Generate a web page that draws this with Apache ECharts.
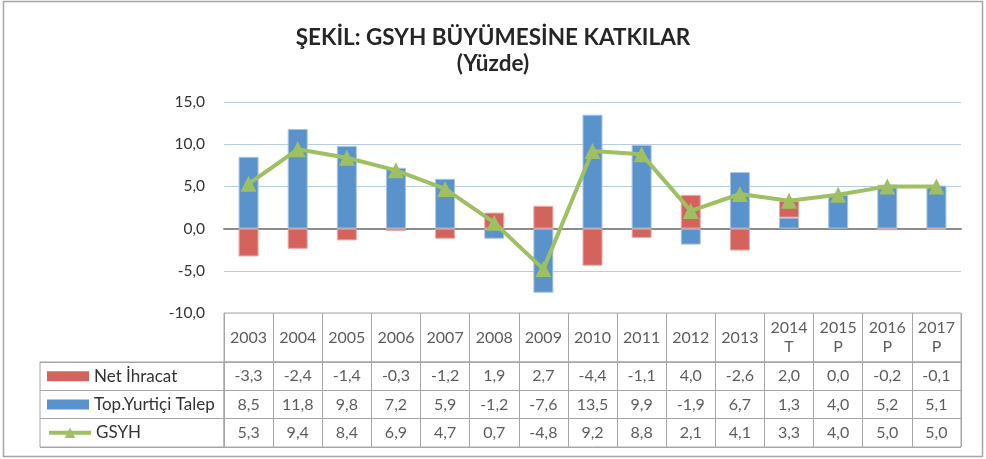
<!DOCTYPE html>
<html>
<head>
<meta charset="utf-8">
<script src="https://cdn.jsdelivr.net/npm/echarts@6/dist/echarts.min.js"></script>
<style>html,body{margin:0;padding:0;background:#fff}#c{width:986px;height:459px}</style>
</head>
<body>
<div id="c"></div>
<script>
const years = ['2003','2004','2005','2006','2007','2008','2009','2010','2011','2012','2013','2014T','2015P','2016P','2017P'];
const headerLabels = ['2003','2004','2005','2006','2007','2008','2009','2010','2011','2012','2013','2014\nT','2015\nP','2016\nP','2017\nP'];
const rowNames = ['Net İhracat','Top.Yurtiçi Talep','GSYH'];
const netExport = [-3.3,-2.4,-1.4,-0.3,-1.2,1.9,2.7,-4.4,-1.1,4.0,-2.6,2.0,0.0,-0.2,-0.1];
const domesticDemand = [8.5,11.8,9.8,7.2,5.9,-1.2,-7.6,13.5,9.9,-1.9,6.7,1.3,4.0,5.2,5.1];
const gdp = [5.3,9.4,8.4,6.9,4.7,0.7,-4.8,9.2,8.8,2.1,4.1,3.3,4.0,5.0,5.0];
const yTicks = {min:-10, max:15, interval:5};

const fmt = v => Number(v).toFixed(1).replace('.', ',');
const FONT = 'Lato';
const TXT = '#333333';
const BORDER = '#a6a6a6';
const rowsData = [netExport, domesticDemand, gdp];

const chart = echarts.init(document.getElementById('c'));

const tableSeries = rowsData.map((arr, r) => ({
  type: 'scatter', name: 'tbl' + r, xAxisIndex: 2, yAxisIndex: 2,
  symbolSize: 1, itemStyle: {color: 'rgba(0,0,0,0)'}, silent: true,
  label: {show: true, position: 'inside', formatter: p => fmt(p.value[2]),
    fontFamily: FONT, fontSize: 16, color: TXT},
  data: arr.map((v, i) => [i, r, v])
}));

const legendTops = [367.7, 396, 424.3];
const legends = rowNames.map((n, i) => ({
  left: 47, top: legendTops[i], padding: 0, data: [{name: n, icon: i === 2 ? undefined : 'rect'}],
  selectedMode: false,
  itemWidth: 42, itemHeight: i === 2 ? 13 : 10,
  itemStyle: {borderWidth: 0},
  lineStyle: {width: 4},
  textStyle: {fontFamily: FONT, fontSize: 17, color: TXT, lineHeight: 17}
}));

chart.setOption({
  animation: false,
  textStyle: {fontFamily: FONT},
  title: {
    text: 'ŞEKİL: GSYH BÜYÜMESİNE KATKILAR\n(Yüzde)',
    left: 'center', top: 24.5, padding: 0,
    textStyle: {fontFamily: FONT, fontSize: 22.5, fontWeight: 'bold', color: '#262626', lineHeight: 26}
  },
  legend: legends,
  graphic: [{type: 'rect', shape: {x: 3.5, y: 1.5, width: 979, height: 455},
    style: {fill: 'none', stroke: '#a6a6a6', lineWidth: 1.5}, silent: true}],
  grid: [
    {left: 224, right: 25, top: 102, height: 211},
    {left: 224, right: 25, top: 313, height: 49, show: true, borderColor: BORDER, borderWidth: 1},
    {left: 224, right: 25, top: 362, height: 85, show: true, borderColor: BORDER, borderWidth: 1},
    {left: 40, width: 184, top: 362, height: 85, show: true, borderColor: BORDER, borderWidth: 1}
  ],
  xAxis: [
    {type: 'category', gridIndex: 0, data: years,
      axisLine: {show: true, onZero: true, lineStyle: {color: '#8c8c8c', width: 2}},
      axisTick: {show: false}, axisLabel: {show: false}, splitLine: {show: false}},
    {type: 'category', gridIndex: 1, data: years,
      axisLine: {show: false}, axisTick: {show: false}, axisLabel: {show: false},
      splitLine: {show: true, interval: 0, lineStyle: {color: BORDER, width: 1}}},
    {type: 'category', gridIndex: 2, data: years,
      axisLine: {show: false}, axisTick: {show: false}, axisLabel: {show: false},
      splitLine: {show: true, interval: 0, lineStyle: {color: BORDER, width: 1}}},
    {type: 'value', gridIndex: 3, show: false}
  ],
  yAxis: [
    {type: 'value', gridIndex: 0, min: yTicks.min, max: yTicks.max, interval: yTicks.interval,
      axisLine: {show: false}, axisTick: {show: false},
      axisLabel: {formatter: v => fmt(v), fontFamily: FONT, fontSize: 15.5, color: TXT, margin: 19},
      splitLine: {lineStyle: {color: '#b8cce4', width: 1}}},
    {type: 'category', gridIndex: 1, data: ['h'], show: false},
    {type: 'category', gridIndex: 2, data: rowNames, inverse: true,
      axisLine: {show: false}, axisTick: {show: false}, axisLabel: {show: false},
      splitLine: {show: true, interval: 0, lineStyle: {color: BORDER, width: 1}}},
    {type: 'category', gridIndex: 3, data: rowNames, inverse: true,
      axisLine: {show: false}, axisTick: {show: false}, axisLabel: {show: false},
      splitLine: {show: true, interval: 0, lineStyle: {color: BORDER, width: 1}}}
  ],
  series: [
    {name: 'Top.Yurtiçi Talep', type: 'bar', stack: 'k', barWidth: 20, data: domesticDemand,
      itemStyle: {color: '#5a92cc', borderColor: '#a9c5e6', borderWidth: 1}},
    {name: 'Net İhracat', type: 'bar', stack: 'k', barWidth: 20, data: netExport,
      itemStyle: {color: '#d4635e', borderColor: '#eaaaa7', borderWidth: 1}},
    {name: 'GSYH', type: 'line', data: gdp, symbol: 'triangle', symbolSize: 16, z: 5,
      lineStyle: {color: '#9fc062', width: 4}, itemStyle: {color: '#9fc062'}},
    {type: 'scatter', name: 'hdr', xAxisIndex: 1, yAxisIndex: 1, symbolSize: 1, silent: true,
      itemStyle: {color: 'rgba(0,0,0,0)'},
      label: {show: true, position: 'inside', formatter: p => headerLabels[p.dataIndex],
        fontFamily: FONT, fontSize: 16, color: TXT, lineHeight: 19, align: 'center'},
      data: years.map((y, i) => [i, 0])},
    ...tableSeries
  ]
});
</script>
</body>
</html>
